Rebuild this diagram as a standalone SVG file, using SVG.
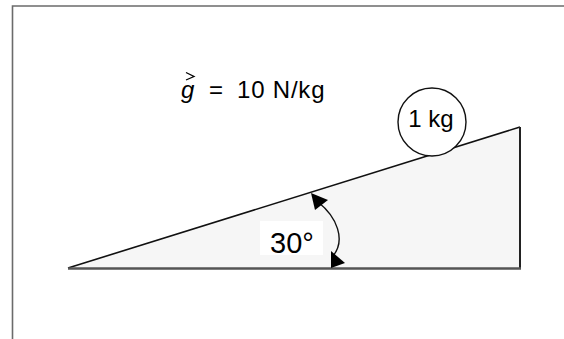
<svg xmlns="http://www.w3.org/2000/svg" width="564" height="339" viewBox="0 0 564 339">
<style>
.t{font-family:"Liberation Sans",Arial,sans-serif;fill:#000}
</style>
<rect width="564" height="339" fill="#fff"/>
<g id="frame">
<path d="M12.5,339 V6 H564" fill="none" stroke="#6b6b6b" stroke-width="1.6"/>
</g>
<g id="incline">
<polygon points="68,268 520,127 520,268" fill="#f6f6f6" stroke="none"/>
<line x1="68" y1="268" x2="520" y2="127" stroke="#111" stroke-width="1.6"/>
<line x1="520" y1="127" x2="520" y2="268" stroke="#222" stroke-width="2"/>
<line x1="68" y1="268.5" x2="521" y2="268.5" stroke="#555" stroke-width="2.4"/>
</g>
<g id="mass">
<circle cx="432" cy="122" r="34" fill="#fff" stroke="#111" stroke-width="1.4"/>
<text class="t" x="431" y="127" font-size="24" text-anchor="middle">1 kg</text>
</g>
<g id="gravity">
<text class="t" x="181" y="98" font-size="24" font-style="italic">g</text>
<path d="M186,72.5 L194,76.5 L186,80" fill="none" stroke="#000" stroke-width="1.3"/>
<text class="t" x="209" y="98" font-size="24">=</text>
<text class="t" x="237" y="98" font-size="24" letter-spacing="0.8">10 N/kg</text>
</g>
<g id="angle">
<rect x="260" y="221" width="63" height="34" fill="#fff"/>
<text class="t" x="270" y="253" font-size="29">30°</text>
<g id="connectors">
<path d="M318,202 C337,217 346,240 333,256" fill="none" stroke="#111" stroke-width="1.4"/>
<polygon points="311,193 315,210 328,200" fill="#000"/>
<polygon points="331,251 331,268 345,263" fill="#000"/>
</g>
</g>
</svg>
